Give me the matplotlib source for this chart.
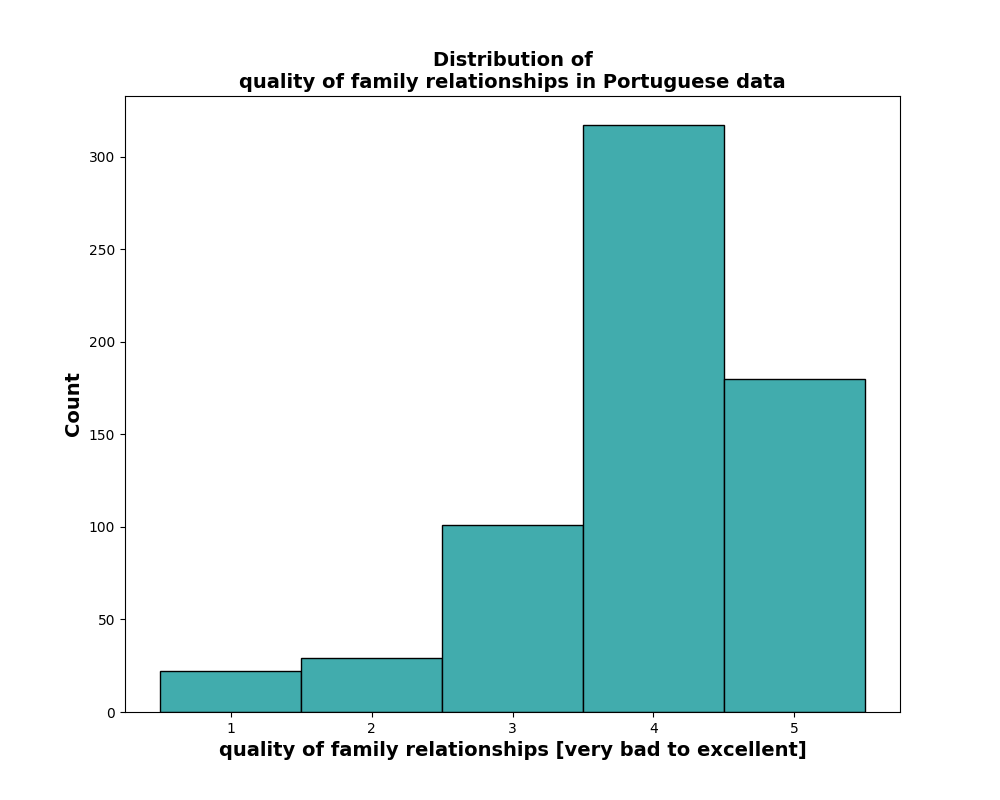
import matplotlib
matplotlib.use("Agg")
import matplotlib.pyplot as plt

# famrel scores and their counts (Portuguese course data)
scores = [1, 2, 3, 4, 5]
counts = [22, 29, 101, 317, 180]

fig, ax = plt.subplots(figsize=(10, 8), dpi=100)
ax.bar(scores, counts, width=1.0, color="#41acad", edgecolor="black", linewidth=1.0)
ax.set_xticks(scores)
ax.set_title("Distribution of\nquality of family relationships in Portuguese data",
             fontsize=14, fontweight="bold")
ax.set_xlabel("quality of family relationships [very bad to excellent]",
              fontsize=14, fontweight="bold")
ax.set_ylabel("Count", fontsize=14, fontweight="bold")

fig.savefig("out.png", dpi=100)
